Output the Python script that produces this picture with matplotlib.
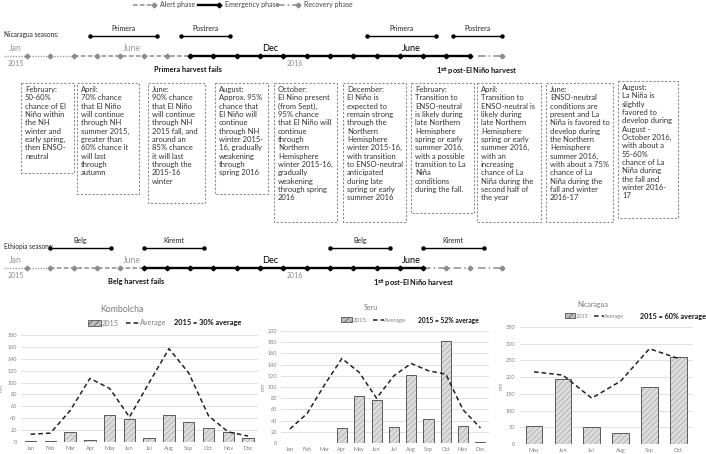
import numpy as np
import matplotlib.pyplot as plt
from matplotlib.patches import Rectangle, Patch
from matplotlib.lines import Line2D

plt.rcParams['font.family'] = ['Lato', 'DejaVu Sans']
plt.rcParams['hatch.linewidth'] = 0.5

W, H = 706, 454

# timeline data, month 0 = Jan 2015
dot_months = np.arange(1, 21)
end_month = 21.4
nic_phases = [('pre', 0, 3), ('alert', 3, 8), ('emerg', 8, 20), ('recov', 20.36, 21.4)]
eth_phases = [('pre', 0, 2), ('alert', 2, 6), ('emerg', 6, 18), ('recov', 18, 20), ('recov', 20.36, 21.4)]
nic_seasons = [('Primera', 3.7, 6.6), ('Postrera', 7.6, 9.7), ('Primera', 15.6, 18.55), ('Postrera', 19.3, 21.4)]
eth_seasons = [('Belg', 2.0, 4.6), ('Kiremt', 6.0, 8.6), ('Belg', 14.0, 16.6), ('Kiremt', 18.0, 20.6)]
month_labels = [('Jan', 0.5), ('June', 5.5), ('Dec', 11.45), ('June', 17.5)]
year_labels = [('2015', 0.5), ('2016', 12.5)]
nic_harvest = [('Primera harvest fails', 7.9), (r'1$^{\bf st}$ post-El Niño harvest', 20.3)]
eth_harvest = [('Belg harvest fails', 5.7), (r'1$^{\bf st}$ post-El Niño harvest', 17.6)]

# ENSO outlook boxes
box_texts = [
    "February:\n50-60%\nchance of El\nNiño within\nthe NH\nwinter and\nearly spring,\nthen ENSO-\nneutral",
    "April:\n70% chance\nthat El Niño\nwill continue\nthrough NH\nsummer 2015,\ngreater than\n60% chance it\nwill last\nthrough\nautumn",
    "June:\n90% chance\nthat El Niño\nwill continue\nthrough NH\n2015 fall, and\naround an\n85% chance\nit will last\nthrough the\n2015-16\nwinter",
    "August:\nApprox. 95%\nchance that\nEl Niño will\ncontinue\nthrough NH\nwinter 2015-\n16, gradually\nweakening\nthrough\nspring 2016",
    "October:\nEl Nino present\n(from Sept),\n95% chance\nthat El Niño will\ncontinue\nthrough\nNorthern\nHemisphere\nwinter 2015-16,\ngradually\nweakening\nthrough spring\n2016",
    "December:\nEl Niño is\nexpected to\nremain strong\nthrough the\nNorthern\nHemisphere\nwinter 2015-16,\nwith transition\nto ENSO-neutral\nanticipated\nduring late\nspring or early\nsummer 2016",
    "February:\nTransition to\nENSO-neutral\nis likely during\nlate Northern\nHemisphere\nspring or early\nsummer 2016,\nwith a possible\ntransition to La\nNiña\nconditions\nduring the fall.",
    "April:\nTransition to\nENSO-neutral is\nlikely during\nlate Northern\nHemisphere\nspring or early\nsummer 2016,\nwith an\nincreasing\nchance of La\nNiña during the\nsecond half of\nthe year",
    "June:\nENSO-neutral\nconditions are\npresent and La\nNiña is favored to\ndevelop during\nthe Northern\nHemisphere\nsummer 2016,\nwith about a 75%\nchance of La\nNiña during the\nfall and winter\n2016-17",
    "August:\nLa Niña is\nslightly\nfavored to\ndevelop during\nAugust -\nOctober 2016,\nwith about a\n55-60%\nchance of La\nNiña during\nthe fall and\nwinter 2016-\n17",
]
box_left = [21, 77, 148, 215, 274, 343, 411, 477, 546, 618]
box_right = [74, 139, 205, 268, 337, 406, 474, 541, 613, 678]
box_top = [83, 83, 83, 83, 83, 83, 83, 83, 83, 81]
box_bottom = [173, 194, 203, 194, 222, 222, 213, 222, 222, 218]

# rainfall data (mm)
kom_months = ['Jan', 'Feb', 'Mar', 'Apr', 'May', 'Jun', 'Jul', 'Aug', 'Sep', 'Oct', 'Nov', 'Dec']
kom_2015 = [2, 2, 16, 3, 46, 39, 7, 45, 33, 24, 16, 7]
kom_avg = [13, 15, 53, 107, 90, 42, 100, 157, 116, 44, 17, 10]
seru_months = kom_months
seru_2015 = [0, 0, 0, 27, 84, 77, 29, 122, 42, 182, 31, 2]
seru_avg = [25, 53, 104, 151, 126, 80, 120, 142, 129, 123, 59, 27]
nica_months = ['May', 'Jun', 'Jul', 'Aug', 'Sep', 'Oct']
nica_2015 = [55, 194, 52, 33, 171, 261]
nica_avg = [216, 206, 137, 188, 285, 256]

fig = plt.figure(figsize=(W / 100, H / 100), dpi=100)

# pixel overlay axes (layout) and month axes (timelines)
ax_p = fig.add_axes([0, 0, 1, 1], label='px')
ax_p.set_xlim(0, W)
ax_p.set_ylim(H, 0)
ax_p.axis('off')

ax_t = fig.add_axes([0, 0, 1, 1], label='months')
ax_t.set_xlim(-3.7 / 23.3, (W - 3.7) / 23.3)
ax_t.set_ylim(H, 0)
ax_t.axis('off')
ax_t.patch.set_alpha(0)

GRAY = '#8c8c8c'
styles = {
    'pre': dict(color='#a0a0a0', ls=(0, (1, 1)), lw=1.0),
    'alert': dict(color=GRAY, ls=(0, (3, 1.5)), lw=1.1),
    'emerg': dict(color='black', ls='-', lw=1.7),
    'recov': dict(color=GRAY, ls=(0, (5, 2, 1, 2)), lw=1.1),
}


def timeline(y, phases, seasons, heading, harvest):
    for kind, a, b in phases:
        ax_t.plot([a, b], [y, y], **styles[kind], zorder=2)
    em = [(a, b) for k, a, b in phases if k == 'emerg'][0]
    for m in dot_months:
        c = 'black' if em[0] <= m <= em[1] else GRAY
        ax_t.plot(m, y, marker='D', ms=2.4, color=c, zorder=3)
    ax_t.plot(end_month, y, marker='D', ms=2.4, color=GRAY, zorder=3)
    for name, a, b in seasons:
        ax_t.plot([a, b], [y - 20, y - 20], color='black', lw=1.0, marker='o', ms=2.2)
        ax_t.text((a + b) / 2, y - 24, name, ha='center', va='bottom', fontsize=5, color='#222')
    ax_t.text(0.0, y - 22, heading, ha='left', va='center', fontsize=4.7, color='#222')
    for i, (lab, m) in enumerate(month_labels):
        ax_t.text(m, y - 3, lab, ha='center', va='bottom',
                  fontsize=6.3 if i < 2 else 6.6, color='#9a9a9a' if i < 2 else 'black')
    for lab, m in year_labels:
        ax_t.text(m, y + 4, lab, ha='center', va='top', fontsize=5, color='#8a8a8a')
    for lab, m in harvest:
        ax_t.text(m, y + 10, lab, ha='center', va='top', fontsize=5.3, fontweight='bold', color='#111')


timeline(56, nic_phases, nic_seasons, 'Nicaragua seasons:', nic_harvest)
timeline(268, eth_phases, eth_seasons, 'Ethiopia seasons:', eth_harvest)

# legend for phases
leg_items = [('Alert phase', 133, 'alert'), ('Emergency phase', 198, 'emerg'), ('Recovery phase', 277, 'recov')]
for lab, x0, kind in leg_items:
    ax_p.plot([x0, x0 + 21], [5, 5], **styles[kind])
    ax_p.plot(x0 + 21, 5, marker='D', ms=2.4, color=styles[kind]['color'])
    ax_p.text(x0 + 27, 5, lab, ha='left', va='center', fontsize=5, color='#444')

# outlook boxes
for txt, l, r, t, b in zip(box_texts, box_left, box_right, box_top, box_bottom):
    ax_p.add_patch(Rectangle((l, t), r - l, b - t, fill=False, ec='#8c8c8c', lw=0.8,
                             ls=(0, (2, 1.5))))
    ax_p.text(l + 4, t + 3, txt, ha='left', va='top', fontsize=5.5, linespacing=1.22, color='#333')


def px_rect(left, right, top, bottom):
    return [left / W, 1 - bottom / H, (right - left) / W, (bottom - top) / H]


def bar_panel(rect, months, vals, avg, ymax, ystep, title, title_xy, title_fs,
              leg_xy, leg_fs, note, note_xy, note_fs, ylab_x):
    ax = fig.add_axes(px_rect(*rect))
    x = np.arange(len(months))
    ax.bar(x, vals, width=0.58, color='#dcdcdc', edgecolor='#a8a8a8', hatch='//////', lw=0, zorder=2)
    ax.bar(x, vals, width=0.58, fill=False, edgecolor='#5a5a5a', lw=0.7, zorder=3)
    ax.plot(x, avg, color='#222', ls=(0, (3, 2)), lw=1.1, zorder=4)
    ax.set_xlim(-0.5, len(months) - 0.5)
    ax.set_ylim(0, ymax)
    ax.set_yticks(np.arange(0, ymax + 1, ystep))
    ax.set_xticks(x)
    ax.set_xticklabels(months)
    ax.grid(axis='y', color='#d5dbe5', lw=0.6, zorder=0)
    ax.set_axisbelow(True)
    for s in ax.spines.values():
        s.set_visible(False)
    ax.tick_params(length=0, labelsize=4, labelcolor='#808080', pad=3)
    ax.set_ylabel('mm', fontsize=3.5, color='#808080')
    ax.yaxis.set_label_coords((ylab_x - rect[0]) / (rect[1] - rect[0]), 0.5)
    ax_p.text(title_xy[0], title_xy[1], title, ha='center', va='center', fontsize=title_fs, color='#7a7a7a')
    handles = [Patch(facecolor='#bdbdbd', edgecolor='#555555', hatch='/////', lw=0.6),
               Line2D([], [], color='#222', ls=(0, (3, 2)), lw=1.1)]
    ax.legend(handles, ['2015', 'Average'], loc='center left', bbox_to_anchor=leg_xy,
              bbox_transform=ax_p.transData, ncol=2, frameon=False, fontsize=leg_fs,
              handlelength=1.8, handleheight=0.8, handletextpad=0.15, columnspacing=0.9,
              borderpad=0, borderaxespad=0, labelcolor='#7f7f7f')
    ax_p.text(note_xy[0], note_xy[1], note, ha='left', va='center', fontsize=note_fs,
              fontweight='bold', color='#111')
    return ax


bar_panel((20.8, 257.9, 335, 442), kom_months, kom_2015, kom_avg, 180, 20,
          'Kombolcha', (122, 309), 6.3, (88, 323), 5.2, '2015 = 30% average', (174, 323), 5.3, 4)
bar_panel((281.3, 489.1, 331, 443), seru_months, seru_2015, seru_avg, 200, 20,
          'Seru', (371, 307), 5, (341, 320), 4.4, '2015 = 52% average', (418, 320), 4.8, 266)
bar_panel((519.6, 692.7, 327, 444), nica_months, nica_2015, nica_avg, 350, 50,
          'Nicaragua', (593, 304), 5, (565, 316), 4.0, '2015 = 60% average', (640, 316), 5.2, 504)

fig.savefig('out.png', dpi=100)
